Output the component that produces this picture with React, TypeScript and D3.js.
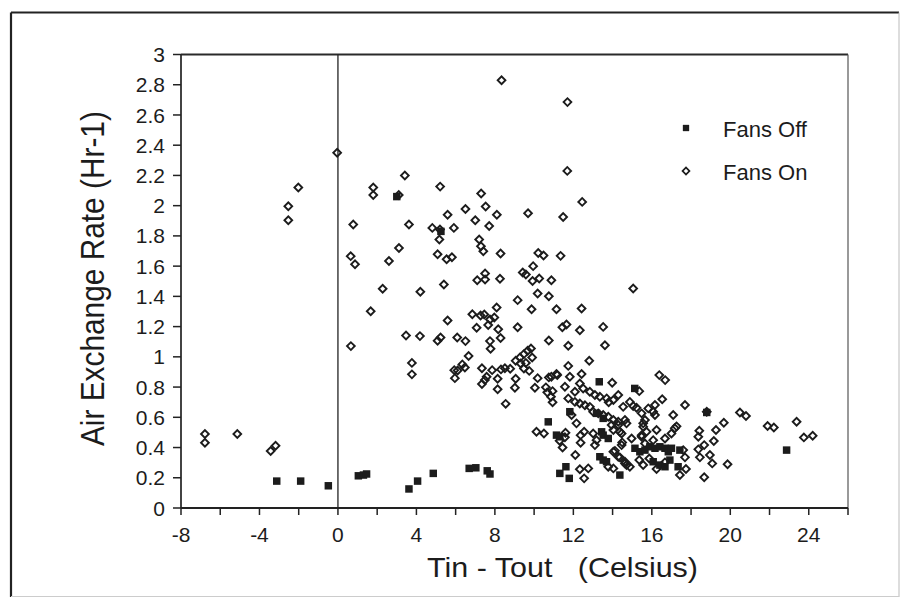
import React from "react";
import * as d3 from "d3";

const fansOff: [number, number][] = [
  [-3.12, 0.178], [-1.9, 0.178], [-0.49, 0.147], [1.04, 0.213], [1.3, 0.218], [1.46, 0.225],
  [3.0, 2.06], [3.62, 0.126], [4.06, 0.178], [4.86, 0.229], [5.25, 1.83], [6.69, 0.262], [7.03, 0.266],
  [7.61, 0.246], [7.75, 0.225], [10.72, 0.57], [11.14, 0.482], [11.31, 0.471], [11.31, 0.229],
  [11.62, 0.273], [11.79, 0.196], [11.82, 0.637], [13.32, 0.835], [13.18, 0.626], [13.52, 0.593],
  [13.44, 0.504], [13.52, 0.482], [13.78, 0.46], [13.35, 0.339], [13.52, 0.317], [13.69, 0.306],
  [14.37, 0.218], [15.13, 0.791], [15.14, 0.395], [15.39, 0.372], [15.65, 0.383], [15.9, 0.405],
  [16.16, 0.395], [16.41, 0.405], [16.67, 0.395], [16.84, 0.372], [17.0, 0.395], [17.43, 0.383],
  [16.07, 0.306], [16.41, 0.284], [16.67, 0.273], [16.92, 0.317], [17.34, 0.273], [18.8, 0.632],
  [22.87, 0.383],
];

const fansOn: [number, number][] = [
  [-6.78, 0.489], [-6.78, 0.432], [-5.13, 0.489], [-3.43, 0.377], [-3.18, 0.412], [-2.53, 1.996],
  [-2.53, 1.904], [-2.02, 2.12], [-0.04, 2.35],
  [0.66, 1.071], [0.65, 1.666], [0.87, 1.613], [0.78, 1.875], [1.67, 1.302], [1.8, 2.12], [1.8, 2.07],
  [2.28, 1.45], [2.6, 1.634], [3.11, 1.72], [3.1, 2.07], [3.41, 2.2], [3.62, 1.875], [3.47, 1.141],
  [3.77, 0.96], [3.77, 0.884], [4.18, 1.137], [4.2, 1.43],
  [4.81, 1.853], [5.21, 2.126], [5.2, 1.842], [5.17, 1.776], [5.08, 1.679], [5.54, 1.646], [5.81, 1.659],
  [5.91, 1.853], [5.59, 1.94], [6.5, 1.978], [5.4, 1.478], [5.59, 1.24], [5.08, 1.106], [5.23, 1.128],
  [6.08, 1.128], [6.5, 1.104], [6.66, 1.005], [6.34, 0.95], [6.47, 0.93], [6.1, 0.91], [5.93, 0.912],
  [5.96, 0.859], [7.0, 1.903], [7.3, 2.08], [7.53, 1.994], [7.71, 1.866], [7.2, 1.776], [7.29, 1.732],
  [7.41, 1.699], [7.1, 1.507], [7.5, 1.511], [7.5, 1.551], [6.85, 1.282], [7.27, 1.274], [7.46, 1.28],
  [7.75, 1.247], [7.97, 1.26], [7.07, 1.192], [7.66, 1.21], [7.75, 1.104], [7.78, 1.053], [7.34, 0.925],
  [7.58, 0.868], [7.49, 0.846], [7.34, 0.82], [7.86, 0.912],
  [8.34, 2.83], [8.1, 1.94], [8.29, 1.683], [8.26, 1.516], [8.09, 1.326], [8.17, 1.183], [8.29, 1.124],
  [8.14, 0.855], [8.14, 0.785], [8.31, 0.917], [8.51, 0.925], [8.78, 0.921], [8.55, 0.689], [9.06, 0.974],
  [9.28, 0.996], [9.48, 1.018], [9.67, 1.04], [9.84, 1.055], [9.9, 0.996], [9.58, 0.96], [9.31, 0.956],
  [9.48, 0.923], [9.75, 0.907], [9.06, 0.855], [9.02, 0.795], [9.16, 1.375], [9.16, 1.196], [9.69, 1.95],
  [9.42, 1.558], [9.58, 1.545], [9.95, 1.6], [9.92, 1.502], [9.87, 1.315], [10.21, 1.687], [10.48, 1.67],
  [10.26, 1.518], [10.88, 1.507], [10.18, 1.419], [10.75, 1.401], [10.75, 1.108], [10.04, 0.795],
  [10.18, 0.859], [10.75, 0.864], [10.88, 0.868], [10.6, 0.798], [10.67, 0.765], [10.94, 0.773],
  [10.86, 0.736], [10.94, 0.7], [10.12, 0.504], [10.5, 0.493], [11.14, 1.315], [11.35, 1.668],
  [11.48, 1.925], [11.7, 2.685], [11.69, 2.23], [11.44, 1.196], [11.65, 1.214], [11.74, 1.073],
  [11.18, 0.879], [11.74, 0.94], [11.14, 0.886], [11.3, 0.445], [11.45, 0.4], [11.6, 0.498],
  [11.82, 0.868], [11.57, 0.802], [11.74, 0.725], [11.91, 0.615], [11.57, 0.468],
  [12.45, 2.025], [12.42, 1.32], [12.33, 1.176], [12.81, 0.974], [12.42, 0.886], [12.08, 0.769],
  [12.33, 0.824], [12.5, 0.791], [12.84, 0.769], [12.08, 0.702], [12.33, 0.691], [12.59, 0.68],
  [12.84, 0.669], [12.16, 0.56], [12.37, 0.482], [12.37, 0.432], [12.55, 0.504], [12.1, 0.35],
  [12.33, 0.256], [12.55, 0.196], [12.76, 0.262], [13.01, 0.637], [13.27, 0.626], [13.52, 0.615],
  [13.78, 0.604], [13.1, 0.747], [13.35, 0.736], [13.7, 0.725], [13.52, 1.198], [13.61, 1.077],
  [13.8, 0.7], [13.01, 0.493], [13.18, 0.449], [13.1, 0.416], [13.98, 0.828], [14.04, 0.714],
  [14.29, 0.747], [14.04, 0.582], [14.29, 0.571], [14.63, 0.582], [14.71, 0.56], [14.04, 0.516],
  [14.46, 0.493], [13.95, 0.549], [14.29, 0.549], [14.46, 0.416], [14.04, 0.372], [14.29, 0.339],
  [14.71, 0.284], [14.04, 0.262], [13.78, 0.273], [14.63, 0.295], [14.88, 0.273], [14.88, 0.702],
  [15.05, 0.674], [15.22, 0.663], [14.54, 0.669], [14.37, 0.504], [14.49, 0.434], [14.12, 0.378],
  [14.37, 0.335], [14.63, 0.306], [14.97, 0.46], [15.48, 0.471], [15.73, 0.504], [15.56, 0.56],
  [15.05, 1.452], [15.36, 0.773], [15.36, 0.317], [15.56, 0.284], [15.87, 0.328], [15.48, 0.626],
  [15.65, 0.582], [15.56, 0.537], [15.82, 0.659], [16.07, 0.637], [16.16, 0.681], [16.16, 0.615],
  [15.65, 0.427], [15.48, 0.482], [16.07, 0.449], [16.24, 0.516], [16.67, 0.46], [16.38, 0.879],
  [16.68, 0.846], [16.53, 0.72], [17.17, 0.527], [17.0, 0.493], [17.09, 0.615], [17.26, 0.54],
  [16.24, 0.258], [16.67, 0.302], [17.43, 0.218], [17.74, 0.258], [17.69, 0.335], [17.6, 0.383],
  [17.69, 0.681], [18.42, 0.511], [18.37, 0.471], [18.67, 0.416], [18.37, 0.388], [18.45, 0.335],
  [18.96, 0.35], [19.08, 0.295], [18.67, 0.203], [18.8, 0.637], [19.27, 0.516], [19.16, 0.443],
  [19.67, 0.564], [19.86, 0.289], [20.49, 0.632], [20.8, 0.608], [21.9, 0.542], [22.22, 0.533],
  [23.38, 0.57], [23.75, 0.467], [24.2, 0.478],
];

const xMajorTicks = [-8, -4, 0, 4, 8, 12, 16, 20, 24];
const xMinorStep = 2;
const yTickStep = 0.2;
const legendLabels = ["Fans Off", "Fans On"];
const xTitle = "Tin - Tout   (Celsius)";
const yTitle = "Air Exchange Rate (Hr-1)";

export default function App() {
  const W = 901, H = 598;
  const x = d3.scaleLinear().domain([-8, 26]).range([181, 848]);
  const y = d3.scaleLinear().domain([0, 3]).range([508, 54.5]);
  const xTicks = d3.range(-8, 26.001, xMinorStep);
  const yTicks = d3.range(0, 3.0001, yTickStep).map((v) => Math.round(v * 10) / 10);
  const diamond = d3.symbol().type(d3.symbolSquare).size(30)() as string;
  const square = d3.symbol().type(d3.symbolSquare).size(56)() as string;
  const ink = "#1c1c1c";
  const font = "'Liberation Sans', Arial, Helvetica, sans-serif";

  return (
    <svg width={W} height={H} style={{ position: "absolute", left: 0, top: 0, background: "#fff" }}>
      <rect x={0} y={0} width={W} height={H} fill="#fff" />
      {/* outer frame */}
      <line x1={11} y1={12.5} x2={899} y2={12.5} stroke="#222" strokeWidth={2.2} />
      <line x1={11} y1={12.5} x2={11} y2={597} stroke="#222" strokeWidth={2.2} />
      <line x1={899} y1={12.5} x2={899} y2={597} stroke="#bbb" strokeWidth={1} />
      <line x1={11} y1={596.5} x2={899} y2={596.5} stroke="#ccc" strokeWidth={1} />

      {/* plot frame */}
      <line x1={x(-8)} y1={y(3)} x2={x(26)} y2={y(3)} stroke="#2a2a2a" strokeWidth={2} />
      <line x1={x(26)} y1={y(3)} x2={x(26)} y2={y(0)} stroke="#555" strokeWidth={1.2} />
      <line x1={x(-8)} y1={y(3)} x2={x(-8)} y2={y(0)} stroke="#222" strokeWidth={1.7} />
      <line x1={x(-8)} y1={y(0)} x2={x(26)} y2={y(0)} stroke="#222" strokeWidth={1.8} />
      <line x1={x(0)} y1={y(3)} x2={x(0)} y2={y(0)} stroke="#222" strokeWidth={1.3} />

      {/* y ticks */}
      {yTicks.map((v) => (
        <g key={"y" + v}>
          <line x1={x(-8) - 8} x2={x(-8)} y1={y(v)} y2={y(v)} stroke="#222" strokeWidth={1.5} />
          <text x={165} y={y(v)} dy="0.36em" textAnchor="end" fontFamily={font} fontSize={21} fill={ink}>
            {String(v)}
          </text>
        </g>
      ))}

      {/* x ticks */}
      {xTicks.map((v) => (
        <line key={"x" + v} x1={x(v)} x2={x(v)} y1={y(0)} y2={y(0) + 7} stroke="#222" strokeWidth={1.5} />
      ))}
      {xMajorTicks.map((v) => (
        <text key={"xl" + v} x={x(v)} y={542} textAnchor="middle" fontFamily={font} fontSize={21} fill={ink}>
          {String(v)}
        </text>
      ))}

      {/* titles */}
      <text x={427} y={576.5} fontFamily={font} fontSize={28.5} fill={ink} textLength={271}
        lengthAdjust="spacingAndGlyphs" style={{ whiteSpace: "pre" }}>
        {xTitle}
      </text>
      <text transform="translate(103.5,278.6) rotate(-90)" textAnchor="middle" fontFamily={font}
        fontSize={33} fill={ink} textLength={335} lengthAdjust="spacingAndGlyphs">
        {yTitle}
      </text>

      {/* data */}
      {fansOn.map(([a, b], i) => (
        <path key={"on" + i} d={diamond} transform={`translate(${x(a)},${y(b)}) rotate(45)`}
          fill="none" stroke={ink} strokeWidth={1.9} />
      ))}
      {fansOff.map(([a, b], i) => (
        <path key={"off" + i} d={square} transform={`translate(${x(a)},${y(b)})`} fill={ink} />
      ))}

      {/* legend */}
      <path d={d3.symbol().type(d3.symbolSquare).size(40)() as string} transform="translate(686,128)" fill={ink} />
      <text x={723} y={137} fontFamily={font} fontSize={22} fill={ink}>{legendLabels[0]}</text>
      <path d={d3.symbol().type(d3.symbolSquare).size(24)() as string} transform="translate(686,171) rotate(45)"
        fill="none" stroke={ink} strokeWidth={1.7} />
      <text x={723} y={180} fontFamily={font} fontSize={22} fill={ink}>{legendLabels[1]}</text>
    </svg>
  );
}
